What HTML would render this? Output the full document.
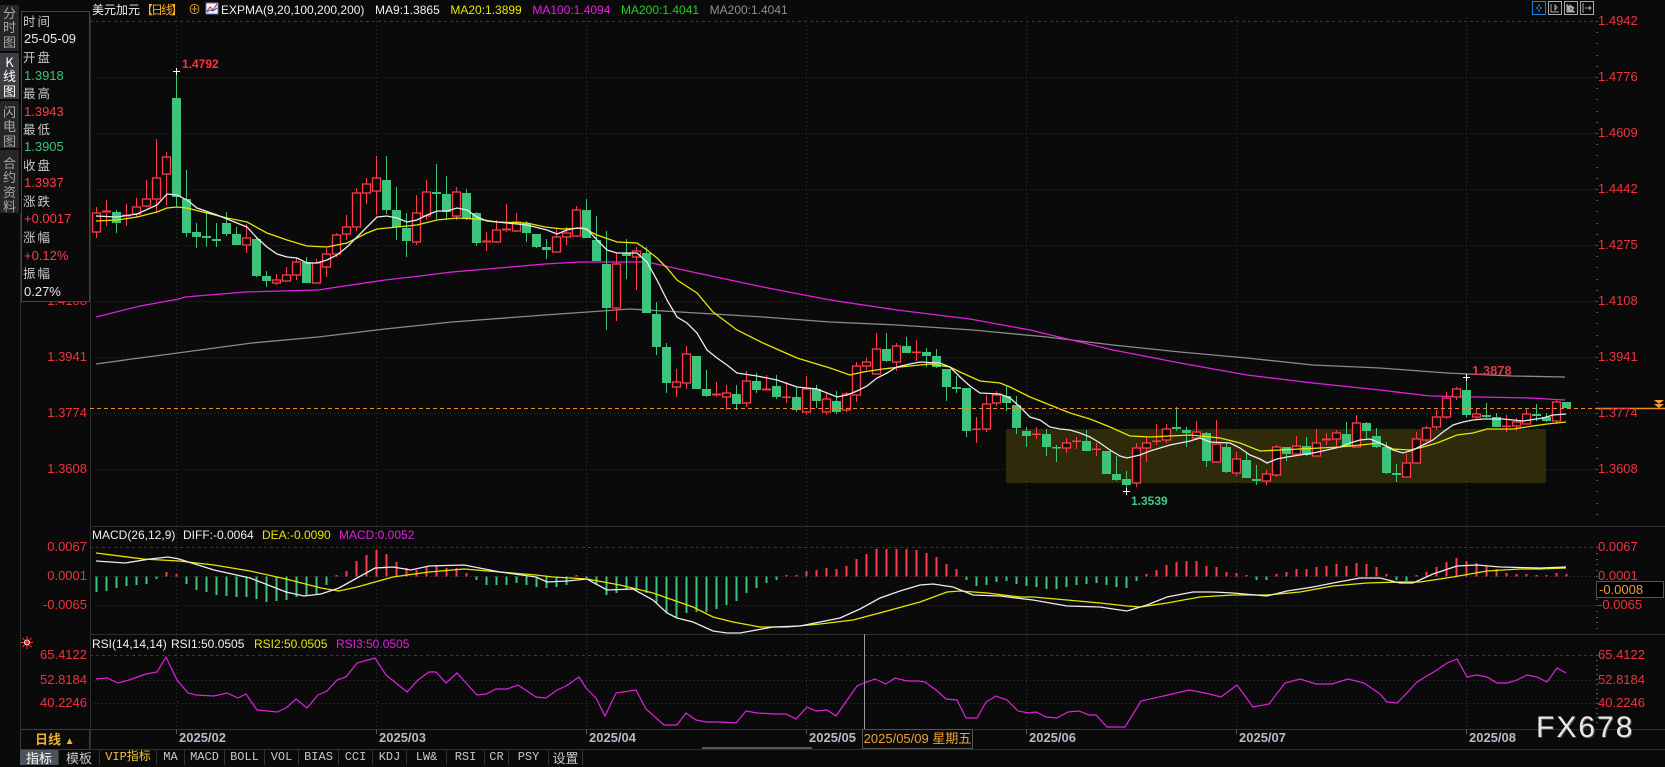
<!DOCTYPE html>
<html><head><meta charset="utf-8">
<style>
*{margin:0;padding:0;box-sizing:border-box}
body{width:1665px;height:765px;background:#0a0a0a;overflow:hidden;position:relative;font-family:"Liberation Sans","Noto Sans CJK SC",sans-serif;color:#ccc}
.t{position:absolute;white-space:nowrap;line-height:14px;font-size:12px}
.ra{left:1598px;font-size:13px;color:#ee3340}
.la{right:1578px;font-size:13px;color:#ee3340;text-align:right}
.tab{position:absolute;left:0;width:19px;background:#262628;color:#a8a8a8;font-size:13px;line-height:14.3px;text-align:center;font-family:"Noto Sans CJK SC",sans-serif}
.lb{position:absolute;left:23px;font-size:12.5px;letter-spacing:2px;color:#c8c8c8;line-height:14px;white-space:nowrap;font-family:"Noto Sans CJK SC",sans-serif}
.vl{position:absolute;left:24px;font-size:13px;line-height:14px;white-space:nowrap}
.g{color:#3cc47c}.r{color:#ff3b4a}.w{color:#e8e8e8}
.ml{position:absolute;top:731px;font-size:13px;font-weight:bold;color:#b4bcc8;line-height:14px}
.tb{position:absolute;top:750px;height:15px;font-family:"Liberation Mono","Noto Sans CJK SC",monospace;font-size:12px;line-height:15px;color:#c8c8c8;text-align:center;border-right:1px solid #333}
</style></head><body>

<svg id="sv" width="1665" height="765" style="position:absolute;left:0;top:0">
<rect x="1006" y="429" width="540" height="54" fill="#2e2a0a"/>
<g fill="none" stroke="#3a3a3a" stroke-width="1">
<path d="M90 21.5H1596M90 547.5H1596M90 655.5H1596" stroke-dasharray="3,3"/>
<path d="M90 77.5H1596M90 133.5H1596M90 189.5H1596M90 245.5H1596M90 301.5H1596M90 357.5H1596M90 413.5H1596M90 469.5H1596M90 576.5H1596M90 605.5H1596M90 680.5H1596M90 703.5H1596" stroke-dasharray="1,3"/>
<path d="M176.5 17V729M376.5 17V729M586.5 17V729M806.5 17V729M1026.5 17V729M1236.5 17V729M1466.5 17V729" stroke-dasharray="1,3"/>
</g>
<g stroke="#2e2e2e" stroke-width="1">
<path d="M90 526.5H1665M90 634.5H1665M20 729.5H1665M20 749.5H1665M90.5 17V749M20.5 213V765M89.5 729V749"/>
<path d="M176.5 729V734M376.5 729V734M586.5 729V734M806.5 729V734M1026.5 729V734M1236.5 729V734M1466.5 729V734" stroke="#555"/>
</g>
<path d="M702 748H812" stroke="#555" stroke-width="2"/>
<g id="ticks" fill="#555"></g>
<polyline fill="none" stroke="#8a8a8a" stroke-width="1.3" points="96,364 132,359 185,352 252,343 318,337 385,329 452,322 545,315 630,309 697,313 763,317 830,322 897,325 973,330 1047,337 1113,345 1180,352 1247,358 1313,365 1380,368 1447,373 1513,376 1565,377"/>
<polyline fill="none" stroke="#e020e0" stroke-width="1.3" points="96,317 140,306 179,299 185,297 245,292 318,290 385,280 420,276 452,272 545,264 580,262 647,262 697,273 763,287 830,300 897,310 970,319 1030,330 1113,350 1180,363 1247,375 1313,383 1380,390 1430,396 1480,397 1530,398 1565,400"/>
<g id="candles"></g>
<polyline fill="none" stroke="#e6e600" stroke-width="1.3" points="96,221 117,220 137,217 157,212 167,208 177,207 187,208 207,213 227,218 247,222 267,233 287,240 307,246 327,247 347,243 367,233 377,229 397,227 417,225 437,220 457,218 477,219 497,222 527,223 545,227 563,229 583,228 597,235 617,242 637,243 647,250 657,258 667,268 677,280 697,293 713,312 737,330 763,343 797,358 830,368 850,375 863,372 883,369 900,367 930,364 950,367 960,372 980,381 1000,383 1010,387 1030,397 1050,405 1070,413 1090,419 1110,427 1130,436 1150,437 1170,436 1190,435 1200,436 1220,438 1240,443 1260,451 1280,450 1300,449 1320,448 1340,447 1360,445 1380,443 1393,449 1410,450 1423,447 1437,443 1457,435 1473,433 1487,429 1513,429 1533,426 1547,424 1566,422"/>
<polyline fill="none" stroke="#ececec" stroke-width="1.3" points="96,216 117,217 137,214 157,205 167,194 177,195 187,200 197,208 217,215 237,223 247,227 257,238 267,247 277,254 287,257 297,258 307,263 317,263 327,260 337,255 347,247 357,237 367,227 377,217 387,216 397,218 407,222 417,220 427,215 437,211 447,211 457,208 467,210 477,217 487,221 507,223 527,225 547,230 557,234 567,230 577,228 587,229 597,240 607,250 617,253 637,253 647,262 657,280 667,300 677,317 687,323 697,333 707,350 717,358 727,365 737,373 757,376 777,380 797,387 817,389 837,397 847,395 857,391 867,386 877,378 887,373 897,367 910,364 920,362 940,363 950,367 960,377 970,386 980,393 1000,394 1010,398 1020,407 1030,417 1040,420 1050,427 1060,429 1070,430 1080,433 1090,437 1100,443 1110,450 1120,456 1127,458 1140,455 1150,451 1160,448 1170,445 1180,443 1190,441 1200,438 1210,442 1230,443 1240,448 1250,455 1260,459 1267,463 1277,459 1287,457 1300,455 1313,453 1327,450 1340,447 1350,443 1360,440 1370,439 1380,443 1393,450 1403,453 1413,450 1423,445 1433,440 1443,432 1453,425 1463,422 1473,420 1483,419 1503,419 1523,421 1543,418 1553,415 1566,414"/>
<path d="M90 408.5H1596" stroke="#f08a20" stroke-width="1" stroke-dasharray="4,3"/>
<path d="M1596 408.5H1665" stroke="#f08a20" stroke-width="1.5"/>
<path d="M1654 400h10l-5 4zM1654 404h10l-5 4z" fill="#f0a030"/>
<path d="M173 71.5H180M176.5 68V75M1463 377.5H1470M1466.5 374V381M1123 491.5H1130M1126.5 488V495" stroke="#fff" stroke-width="1"/>
<g id="macd"></g>
<polyline fill="none" stroke="#e6e600" stroke-width="1.3" points="96,553 143,559 179,561 214,565 250,571 286,579 321,588 339,591 357,587 393,577 429,572 464,569 500,572 536,575 553,577 587,579 620,585 653,593 673,600 693,607 713,617 733,622 760,627 787,627 820,624 853,620 887,611 920,602 947,592 960,591 987,593 1020,597 1033,597 1067,600 1100,603 1127,606 1140,607 1167,603 1200,597 1233,595 1267,595 1300,592 1333,586 1367,583 1400,582 1420,582 1453,577 1487,571 1520,569 1540,569 1566,568"/>
<polyline fill="none" stroke="#ececec" stroke-width="1.3" points="96,561 125,563 150,559 168,557 179,559 214,570 250,578 286,592 304,596 321,594 339,588 357,578 375,568 393,567 411,570 429,566 464,565 500,572 536,577 547,582 567,581 587,579 607,590 633,589 653,600 667,613 677,618 693,622 713,631 727,633 740,633 773,627 800,626 820,622 840,618 860,609 880,598 900,591 920,585 933,584 953,587 973,595 1000,596 1033,600 1067,606 1100,607 1120,610 1127,611 1147,605 1167,597 1193,592 1213,592 1233,593 1267,596 1287,591 1313,587 1333,583 1360,578 1380,578 1400,583 1413,583 1433,574 1457,566 1477,565 1500,567 1540,568 1566,567"/>
<polyline fill="none" stroke="#e020e0" stroke-width="1.2" points="96,679 107,678 118,683 129,680 146,674 157,672 166,657 177,680 188,693 196,695 214,696 227,693 238,698 246,694 257,710 277,712 286,708 296,699 307,708 318,695 327,691 337,680 346,677 357,663 375,658 386,675 396,683 407,692 418,680 429,672 436,672 446,683 457,673 466,683 477,695 486,694 496,689 507,689 518,685 536,697 546,698 557,690 566,686 579,677 586,688 596,698 605,716 616,693 636,690 646,709 664,725 677,725 686,713 696,720 707,722 721,722 736,723 746,711 757,713 775,714 786,714 796,719 807,707 816,711 827,710 836,716 857,686 864,683 875,679 886,684 895,678 907,681 918,681 925,682 936,690 946,699 957,700 966,718 977,718 986,702 996,696 1007,700 1018,711 1029,713 1036,712 1046,717 1057,718 1068,712 1079,711 1089,715 1096,715 1107,727 1125,727 1141,701 1168,695 1189,690 1205,693 1221,697 1237,685 1253,707 1269,704 1285,683 1300,679 1316,684 1332,684 1348,679 1364,683 1380,694 1387,702 1397,703 1405,695 1417,682 1437,670 1447,663 1457,659 1467,677 1477,675 1487,677 1497,683 1507,683 1517,680 1527,675 1537,677 1547,682 1557,668 1566,673"/>
<path d="M864.5 634V729" stroke="#9a9a9a" stroke-width="1"/>
<g stroke="#ff3030" stroke-width="1"><path d="M21 642.5h3M30 642.5h3M27 636v3M27 646v3M22.5 638l2 2M29.5 645l2 2M31.5 638l-2 2M24.5 645l-2 2"/></g>
<circle cx="27" cy="642.5" r="2.6" fill="#ff2020" stroke="#fff" stroke-width="0.8"/>
<rect x="1532.5" y="1.5" width="13" height="13" fill="none" stroke="#1e7fd8"/>
<path d="M1536 8h2M1540 8h2M1539 4.5v2M1539 9.5v2" stroke="#1e8ff0" stroke-width="1.5"/>
<rect x="1548.5" y="1.5" width="13" height="13" fill="none" stroke="#aaa"/>
<path d="M1551 4v8h8M1555 5v5l2-2.5z" stroke="#aaa" fill="none"/>
<rect x="1564.5" y="1.5" width="13" height="13" fill="none" stroke="#aaa"/>
<path d="M1567 4v8h8M1570 5l4 3-4 3z" stroke="#aaa" fill="#aaa"/>
<rect x="1580.5" y="1.5" width="13" height="13" fill="none" stroke="#aaa"/>
<path d="M1583 3v10M1585 8h6M1589 6l2 2-2 2" stroke="#aaa" fill="none"/>
<rect x="206" y="3" width="12" height="11" fill="#f4f4f4" stroke="#6a7ab0"/>
<path d="M207 11l3-4 3 3 4-6" stroke="#e02020" fill="none"/>
<path d="M207 12l3-2 3 1 4-3" stroke="#2040d0" fill="none"/>
</svg>

<div class="tab" style="top:5px;height:46px;padding-top:1px">分<br>时<br>图</div>
<div class="tab" style="top:53px;height:46px;background:#3e3e42;color:#fff;padding-top:2px">K<br>线<br>图</div>
<div class="tab" style="top:101px;height:47px;padding-top:4px">闪<br>电<br>图</div>
<div class="tab" style="top:150px;height:63px;padding-top:6px">合<br>约<br>资<br>料</div>

<div class="t" style="left:92px;top:3px;color:#f0f0f0;font-family:'Noto Sans CJK SC',sans-serif">美元加元</div>
<div class="t" style="left:141px;top:3px;color:#f0b030;letter-spacing:-2px;font-family:'Noto Sans CJK SC',sans-serif">【日线】</div>
<div class="t" style="left:188px;top:3px;color:#e0a030;font-size:13px">⊕</div>
<div class="t" style="left:221px;top:3px;display:flex;gap:10.6px">
<span style="color:#f0f0f0">EXPMA(9,20,100,200,200)</span><span style="color:#f0f0f0">MA9:1.3865</span><span style="color:#e6e600">MA20:1.3899</span><span style="color:#e020e0">MA100:1.4094</span><span style="color:#20d020">MA200:1.4041</span><span style="color:#909090">MA200:1.4041</span></div>

<div class="t la" style="top:14px">1.4942</div>
<div class="t la" style="top:70px">1.4776</div>
<div class="t la" style="top:126px">1.4609</div>
<div class="t la" style="top:182px">1.4442</div>
<div class="t la" style="top:238px">1.4275</div>
<div class="t la" style="top:294px">1.4108</div>
<div class="t la" style="top:350px">1.3941</div>
<div class="t la" style="top:406px">1.3774</div>
<div class="t la" style="top:462px">1.3608</div>
<div class="t la" style="top:540px">0.0067</div>
<div class="t la" style="top:569px">0.0001</div>
<div class="t la" style="top:598px">-0.0065</div>
<div class="t la" style="top:648px">65.4122</div>
<div class="t la" style="top:673px">52.8184</div>
<div class="t la" style="top:696px">40.2246</div>

<div style="position:absolute;left:21px;top:11px;width:69px;height:291px;background:#0a0a0a;border:1px solid #444"></div>
<div class="lb" style="top:14px">时间</div>
<div class="vl w" style="top:32px">25-05-09</div>
<div class="lb" style="top:50px">开盘</div>
<div class="vl g" style="top:69px">1.3918</div>
<div class="lb" style="top:86px">最高</div>
<div class="vl r" style="top:105px">1.3943</div>
<div class="lb" style="top:122px">最低</div>
<div class="vl g" style="top:140px">1.3905</div>
<div class="lb" style="top:158px">收盘</div>
<div class="vl r" style="top:176px">1.3937</div>
<div class="lb" style="top:194px">涨跌</div>
<div class="vl r" style="top:212px">+0.0017</div>
<div class="lb" style="top:230px">涨幅</div>
<div class="vl r" style="top:249px">+0.12%</div>
<div class="lb" style="top:266px">振幅</div>
<div class="vl w" style="top:285px">0.27%</div>

<div class="t ra" style="top:14px">1.4942</div>
<div class="t ra" style="top:70px">1.4776</div>
<div class="t ra" style="top:126px">1.4609</div>
<div class="t ra" style="top:182px">1.4442</div>
<div class="t ra" style="top:238px">1.4275</div>
<div class="t ra" style="top:294px">1.4108</div>
<div class="t ra" style="top:350px">1.3941</div>
<div class="t ra" style="top:406px">1.3774</div>
<div class="t ra" style="top:462px">1.3608</div>
<div class="t ra" style="top:540px">0.0067</div>
<div class="t ra" style="top:569px">0.0001</div>
<div class="t ra" style="top:598px">-0.0065</div>
<div style="position:absolute;left:1596px;top:581px;width:68px;height:17px;background:#000;border:1px solid #555;color:#f0a040;font-size:13px;line-height:15px;padding-left:2px">-0.0008</div>
<div class="t ra" style="top:648px">65.4122</div>
<div class="t ra" style="top:673px">52.8184</div>
<div class="t ra" style="top:696px">40.2246</div>

<div class="t" style="left:182px;top:57px;color:#ff3040;font-weight:bold">1.4792</div>
<div class="t" style="left:1472px;top:364px;color:#d83a48;font-weight:bold;font-size:13px">1.3878</div>
<div class="t" style="left:1131px;top:494px;color:#44c486;font-weight:bold">1.3539</div>

<div class="t" style="left:92px;top:528px;color:#f0f0f0">MACD(26,12,9)</div>
<div class="t" style="left:183px;top:528px;color:#f0f0f0">DIFF:-0.0064</div>
<div class="t" style="left:262px;top:528px;color:#e6e600">DEA:-0.0090</div>
<div class="t" style="left:339px;top:528px;color:#e020e0">MACD:0.0052</div>
<div class="t" style="left:92px;top:637px;color:#f0f0f0">RSI(14,14,14)</div>
<div class="t" style="left:171px;top:637px;color:#f0f0f0">RSI1:50.0505</div>
<div class="t" style="left:254px;top:637px;color:#e6e600">RSI2:50.0505</div>
<div class="t" style="left:336px;top:637px;color:#e020e0">RSI3:50.0505</div>

<div style="position:absolute;left:20px;top:729px;width:70px;height:21px;border:1px solid #3a3a3a;color:#f0b030;font-size:13px;line-height:19px;padding-left:14px;font-weight:bold;font-family:'Liberation Sans','Noto Sans CJK SC',sans-serif">日线 <span style="font-size:10px">▲</span></div>
<div class="ml" style="left:179px">2025/02</div>
<div class="ml" style="left:379px">2025/03</div>
<div class="ml" style="left:589px">2025/04</div>
<div class="ml" style="left:809px">2025/05</div>
<div class="ml" style="left:1029px">2025/06</div>
<div class="ml" style="left:1239px">2025/07</div>
<div class="ml" style="left:1469px">2025/08</div>
<div style="position:absolute;left:862px;top:729px;width:111px;height:20px;border:1px solid #555;background:#0a0a0a;color:#f0a030;font-size:13px;line-height:18px;text-align:center;white-space:nowrap">2025/05/09 星期五</div>

<div style="position:absolute;left:1536px;top:713px;font-size:30px;line-height:30px;letter-spacing:2px;color:#e8e8ec;text-shadow:1px 1px 0 #5a4a30">FX678</div>

<div class="tb" style="left:20px;width:39px;background:#4e525e;color:#fff;font-family:'Noto Sans CJK SC',sans-serif;font-size:13px">指标</div>
<div class="tb" style="left:59px;width:41px;font-family:'Noto Sans CJK SC',sans-serif;font-size:13px">模板</div>
<div class="tb" style="left:100px;width:57px;color:#f0c040">VIP指标</div>
<div class="tb" style="left:157px;width:28px">MA</div>
<div class="tb" style="left:185px;width:40px">MACD</div>
<div class="tb" style="left:225px;width:40px">BOLL</div>
<div class="tb" style="left:265px;width:34px">VOL</div>
<div class="tb" style="left:299px;width:40px">BIAS</div>
<div class="tb" style="left:339px;width:34px">CCI</div>
<div class="tb" style="left:373px;width:34px">KDJ</div>
<div class="tb" style="left:407px;width:40px">LW&amp;</div>
<div class="tb" style="left:447px;width:38px">RSI</div>
<div class="tb" style="left:485px;width:24px">CR</div>
<div class="tb" style="left:509px;width:40px">PSY</div>
<div class="tb" style="left:549px;width:34px;font-family:'Noto Sans CJK SC',sans-serif;font-size:13px">设置</div>

<script>
(function(){
var C=[[213,232,207,238,1],[211,213,200,226,1],[212,223,210,233,0],[215,217,204,226,1],[207,214,198,217,1],[199,206,180,207,1],[178,199,139,213,1],[157,174,152,205,1],[98,197,71,207,0],[199,233,170,237,0],
[232,237,223,248,0],[236,238,213,247,0],[239,241,223,247,0],[223,234,212,236,0],[234,245,227,245,0],[238,245,224,253,1],[239,276,237,277,0],[276,281,271,287,0],[280,283,274,285,1],[275,281,267,281,1],
[262,275,257,280,1],[262,283,257,283,0],[263,283,259,283,1],[254,267,248,277,1],[235,254,233,257,1],[227,234,215,240,1],[193,227,188,231,1],[184,193,178,204,1],[178,191,156,215,1],[180,210,156,214,0],
[210,227,187,240,0],[228,241,213,257,0],[213,242,195,245,1],[192,216,180,220,1],[192,194,164,219,0],[194,212,176,220,0],[192,216,187,220,1],[193,219,189,220,0],[213,243,212,246,0],[241,243,232,251,1],
[230,242,220,243,1],[229,231,204,232,1],[222,231,213,232,1],[223,233,221,242,0],[234,247,234,248,0],[247,250,239,259,0],[237,252,228,252,1],[233,237,227,245,1],[210,236,206,237,1],[210,238,199,238,0],
[240,261,216,261,0],[264,308,231,330,0],[264,308,253,321,1],[253,256,239,279,0],[251,257,247,290,1],[253,313,247,313,0],[314,347,302,355,0],[347,383,343,393,0],[382,387,369,397,1],[354,383,346,389,1],
[356,389,356,389,0],[389,396,370,397,0],[394,396,382,397,1],[393,397,385,410,1],[394,404,385,410,0],[381,403,371,407,1],[381,390,373,393,0],[389,391,375,391,1],[386,397,375,399,0],[397,398,382,403,1],
[397,410,388,412,0],[389,412,376,415,1],[389,401,385,408,0],[399,412,393,415,1],[401,412,391,414,0],[394,410,392,412,1],[366,395,362,402,1],[362,366,358,370,1],[349,374,333,374,1],[349,361,333,362,0],
[346,362,343,371,1],[346,353,337,353,0],[352,353,340,361,1],[352,356,348,367,0],[356,367,349,368,0],[369,387,369,401,0],[387,389,376,393,0],[388,431,388,437,0],[429,430,417,443,1],[404,429,395,432,1],
[395,403,391,406,1],[396,403,386,411,0],[405,428,396,434,0],[431,436,427,447,0],[434,435,427,439,1],[434,447,429,456,0],[447,448,445,462,0],[443,448,438,453,1],[441,442,437,449,1],[441,451,430,451,0],
[449,450,443,456,1],[451,474,451,474,0],[474,480,456,481,0],[479,485,471,491,0],[448,483,443,487,1],[443,448,437,462,1],[441,442,424,445,1],[429,440,424,443,1],[427,429,407,431,0],[430,433,427,447,0],
[432,438,421,440,1],[433,461,432,467,0],[444,462,420,463,1],[447,472,443,473,0],[459,473,452,476,1],[460,478,453,478,0],[479,481,465,485,0],[474,481,470,485,1],[447,475,445,477,1],[447,454,447,461,0],
[446,454,436,455,1],[446,455,437,456,0],[443,456,429,457,1],[439,441,433,445,1],[433,439,430,447,1],[434,447,422,447,0],[423,447,415,447,1],[423,431,422,440,0],[436,447,428,448,0],[447,473,442,474,0],
[473,475,464,482,0],[463,477,454,477,1],[439,463,432,463,1],[428,440,426,442,1],[417,427,410,430,1],[398,417,392,419,1],[389,397,387,400,1],[390,415,378,417,0],[414,417,409,419,1],[415,417,403,418,0],
[417,427,413,427,0],[426,427,415,432,1],[422,426,418,431,1],[414,424,409,424,1],[414,416,404,421,0],[417,421,413,422,0],[402,421,400,424,1],[402,408,402,408,0]];
var RED="#ff3b4a",GRN="#3cc47c";
var s="";
for(var k=0;k<C.length;k++){
 var d=C[k],cx=96.5+10*k,t=d[0],b=d[1],h=d[2],l=d[3];
 if(d[4]){
  if(h<t)s+='<line x1="'+cx+'" y1="'+h+'" x2="'+cx+'" y2="'+t+'" stroke="'+RED+'"/>';
  if(l>b)s+='<line x1="'+cx+'" y1="'+b+'" x2="'+cx+'" y2="'+l+'" stroke="'+RED+'"/>';
  if(b-t<=2)s+='<rect x="'+(cx-4.5)+'" y="'+(t-0.5)+'" width="9" height="'+Math.max(b-t,1.5)+'" fill="'+RED+'"/>';
  else s+='<rect x="'+(cx-4)+'" y="'+t+'" width="8" height="'+(b-t)+'" fill="#0a0a0a" stroke="'+RED+'" stroke-width="1.3"/>';
 }else{
  s+='<line x1="'+cx+'" y1="'+h+'" x2="'+cx+'" y2="'+l+'" stroke="'+GRN+'"/>';
  s+='<rect x="'+(cx-4.5)+'" y="'+t+'" width="9" height="'+Math.max(b-t,1.5)+'" fill="'+GRN+'"/>';
 }
}
document.getElementById("candles").innerHTML=s;
var M=[592,591,588,586,585,584,579,572,574,584,590,592,595,596,597,597,599,602,601,600,597,595,594,585,575,571,561,555,550,554,562,568,570,567,565,568,568,573,580,585,585,585,583,585,587,588,587,585,575,578,585,595,593,590,590,593,603,613,617,613,612,612,609,605,601,593,588,583,580,575,575,571,570,568,569,566,559,554,549,549,549,549,550,553,557,564,569,580,586,585,582,581,584,586,587,589,589,587,585,584,583,585,587,588,581,574,570,565,562,561,561,566,567,572,573,575,580,580,574,572,569,569,567,566,564,566,563,564,567,574,580,581,575,572,567,562,558,561,563,566,569,573,574,574,575,575,573,574];
var z=576.5,m="";
for(var i=0;i<M.length;i++){
 var x=95.5+10*i,y=M[i];
 if(y<z)m+='<rect x="'+x+'" y="'+y+'" width="2" height="'+(z-y)+'" fill="'+RED+'"/>';
 else m+='<rect x="'+x+'" y="'+z+'" width="2" height="'+Math.max(y-z,1)+'" fill="'+GRN+'"/>';
}
document.getElementById("macd").innerHTML=m;
var tk="";
for(var y=21;y<522;y+=11.2)tk+='<rect x="1596" y="'+Math.round(y)+'" width="2" height="1"/>';
for(var y=547;y<630;y+=5.8)tk+='<rect x="1596" y="'+Math.round(y)+'" width="2" height="1"/>';
for(var y=655;y<726;y+=4.8)tk+='<rect x="1596" y="'+Math.round(y)+'" width="2" height="1"/>';
document.getElementById("ticks").innerHTML=tk;
})();
</script>
</body></html>
